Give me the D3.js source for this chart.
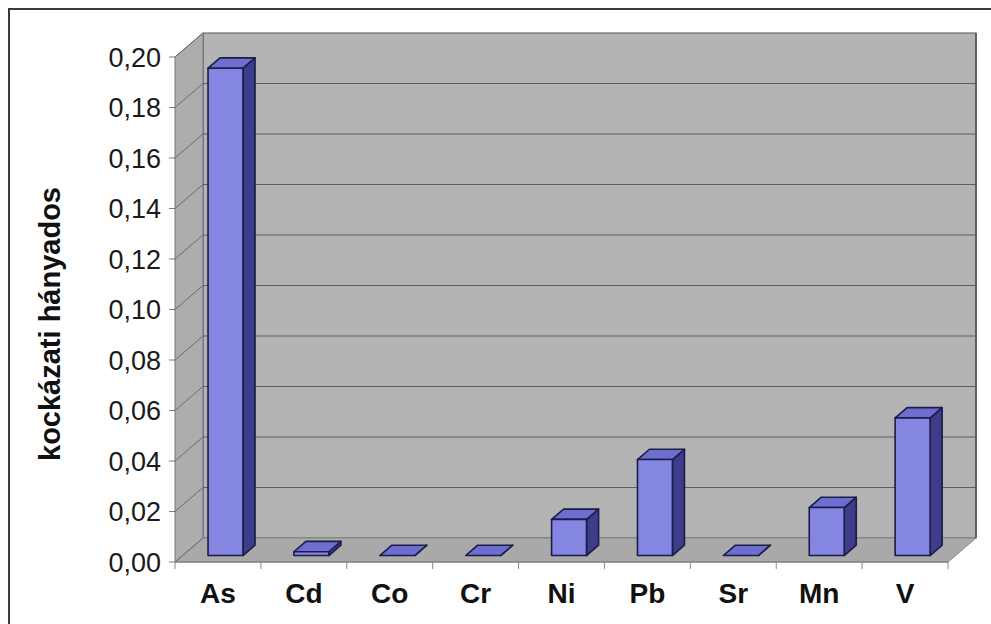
<!DOCTYPE html>
<html><head><meta charset="utf-8">
<script src="https://cdn.jsdelivr.net/npm/d3@7"></script>
<style>html,body{margin:0;padding:0;background:#fff;}svg{display:block;}</style>
</head><body>
<svg id="chart" width="991" height="624"></svg>
<script>
const categories = ["As","Cd","Co","Cr","Ni","Pb","Sr","Mn","V"];
const values = [0.193,0.0015,0,0,0.0143,0.038,0,0.019,0.0545];
const yTicks = [0,0.02,0.04,0.06,0.08,0.10,0.12,0.14,0.16,0.18,0.20];
const yTitle = "kockázati hányados";

const svg = d3.select("#chart");
// front plane geometry
const x0 = 175, x1 = 948, yBot = 562, yTop = 57;
const DX = 28, DY = -24; // full depth offset
const f0 = 0.27, f1 = 0.70; // bar depth range

const x = d3.scaleBand().domain(categories).range([x0, x1]).paddingInner(0.593).paddingOuter(0.2965);
const y = d3.scaleLinear().domain([0, 0.2]).range([yBot, yTop]);

const P = (px, py, f) => [px + DX * f, py + DY * f];
const poly = pts => pts.map(p => p.join(",")).join(" ");

// outer frame
svg.append("rect").attr("x", 9).attr("y", 9).attr("width", 1000).attr("height", 700)
  .attr("fill", "#fff").attr("stroke", "#3a3a3a").attr("stroke-width", 2);

// walls
svg.append("polygon").attr("points", poly([P(x0,yTop,1),P(x1,yTop,1),P(x1,yBot,1),P(x0,yBot,1)]))
  .attr("fill", "#b4b4b4").attr("stroke", "#555").attr("stroke-width", 1.2);
svg.append("polygon").attr("points", poly([P(x0,yTop,0),P(x0,yTop,1),P(x0,yBot,1),P(x0,yBot,0)]))
  .attr("fill", "#adadad").attr("stroke", "#777").attr("stroke-width", 1);
svg.append("polygon").attr("points", poly([P(x0,yBot,0),P(x1,yBot,0),P(x1,yBot,1),P(x0,yBot,1)]))
  .attr("fill", "#a9a9a9").attr("stroke", "#888").attr("stroke-width", 1);

// gridlines
const grid = svg.append("g");
yTicks.forEach(t => {
  const a = P(x0, y(t), 1), b = P(x1, y(t), 1), c = P(x0, y(t), 0);
  if (t > 0 && t < 0.2) grid.append("line").attr("x1", a[0]).attr("y1", a[1]).attr("x2", b[0]).attr("y2", b[1])
    .attr("stroke", "#5e5e5e").attr("stroke-width", 1.2);
  grid.append("line").attr("x1", c[0]).attr("y1", c[1]).attr("x2", a[0]).attr("y2", a[1])
    .attr("stroke", "#6a6a6a").attr("stroke-width", 1);
});
// right edge of back wall
svg.append("line").attr("x1", x1+DX).attr("y1", yTop+DY).attr("x2", x1+DX).attr("y2", yBot+DY)
  .attr("stroke", "#555").attr("stroke-width", 1.5);

// bars
const bars = svg.append("g");
categories.forEach((c, i) => {
  const v = values[i];
  const xl = x(c), xr = x(c) + x.bandwidth();
  const yt = y(v), yb = y(0);
  const g = bars.append("g").attr("stroke", "#1c1c48").attr("stroke-width", 1.6).attr("stroke-linejoin", "round");
  g.append("polygon").attr("points", poly([P(xr,yt,f0),P(xr,yt,f1),P(xr,yb,f1),P(xr,yb,f0)])).attr("fill", "#3d3d8a");
  g.append("polygon").attr("points", poly([P(xl,yt,f0),P(xr,yt,f0),P(xr,yt,f1),P(xl,yt,f1)])).attr("fill", "#6e6ed0");
  if (v > 0) g.append("polygon").attr("points", poly([P(xl,yt,f0),P(xr,yt,f0),P(xr,yb,f0),P(xl,yb,f0)])).attr("fill", "#8585e2");
});

// y axis ticks and labels
const ax = svg.append("g");
yTicks.forEach(t => {
  ax.append("line").attr("x1", x0 - 6).attr("x2", x0).attr("y1", y(t)).attr("y2", y(t)).attr("stroke", "#777").attr("stroke-width", 1);
  ax.append("text").attr("x", 161).attr("y", y(t)).attr("dy", "0.36em").attr("text-anchor", "end")
    .attr("font-family", "Liberation Sans, Arial, sans-serif").attr("font-size", 27).attr("fill", "#1a1a1a")
    .text(d3.format(".2f")(t).replace(".", ","));
});
// x axis line & ticks
ax.append("line").attr("x1", x0).attr("x2", x1).attr("y1", yBot).attr("y2", yBot).attr("stroke", "#777");
const step = x.step();
for (let k = 0; k <= categories.length; k++) {
  const xx = x0 + k * step;
  ax.append("line").attr("x1", xx).attr("x2", xx).attr("y1", yBot).attr("y2", yBot + 7).attr("stroke", "#888").attr("stroke-width", 1);
}
categories.forEach(c => {
  ax.append("text").attr("x", x(c) + x.bandwidth()/2).attr("y", 603).attr("text-anchor", "middle")
    .attr("font-family", "Liberation Sans, Arial, sans-serif").attr("font-weight", "bold").attr("font-size", 28)
    .attr("fill", "#111").text(c);
});
// y title
svg.append("text").attr("transform", "translate(60,324) rotate(-90)").attr("text-anchor", "middle")
  .attr("font-family", "Liberation Sans, Arial, sans-serif").attr("font-weight", "bold").attr("font-size", 29)
  .attr("fill", "#111").text(yTitle);
</script>
</body></html>
